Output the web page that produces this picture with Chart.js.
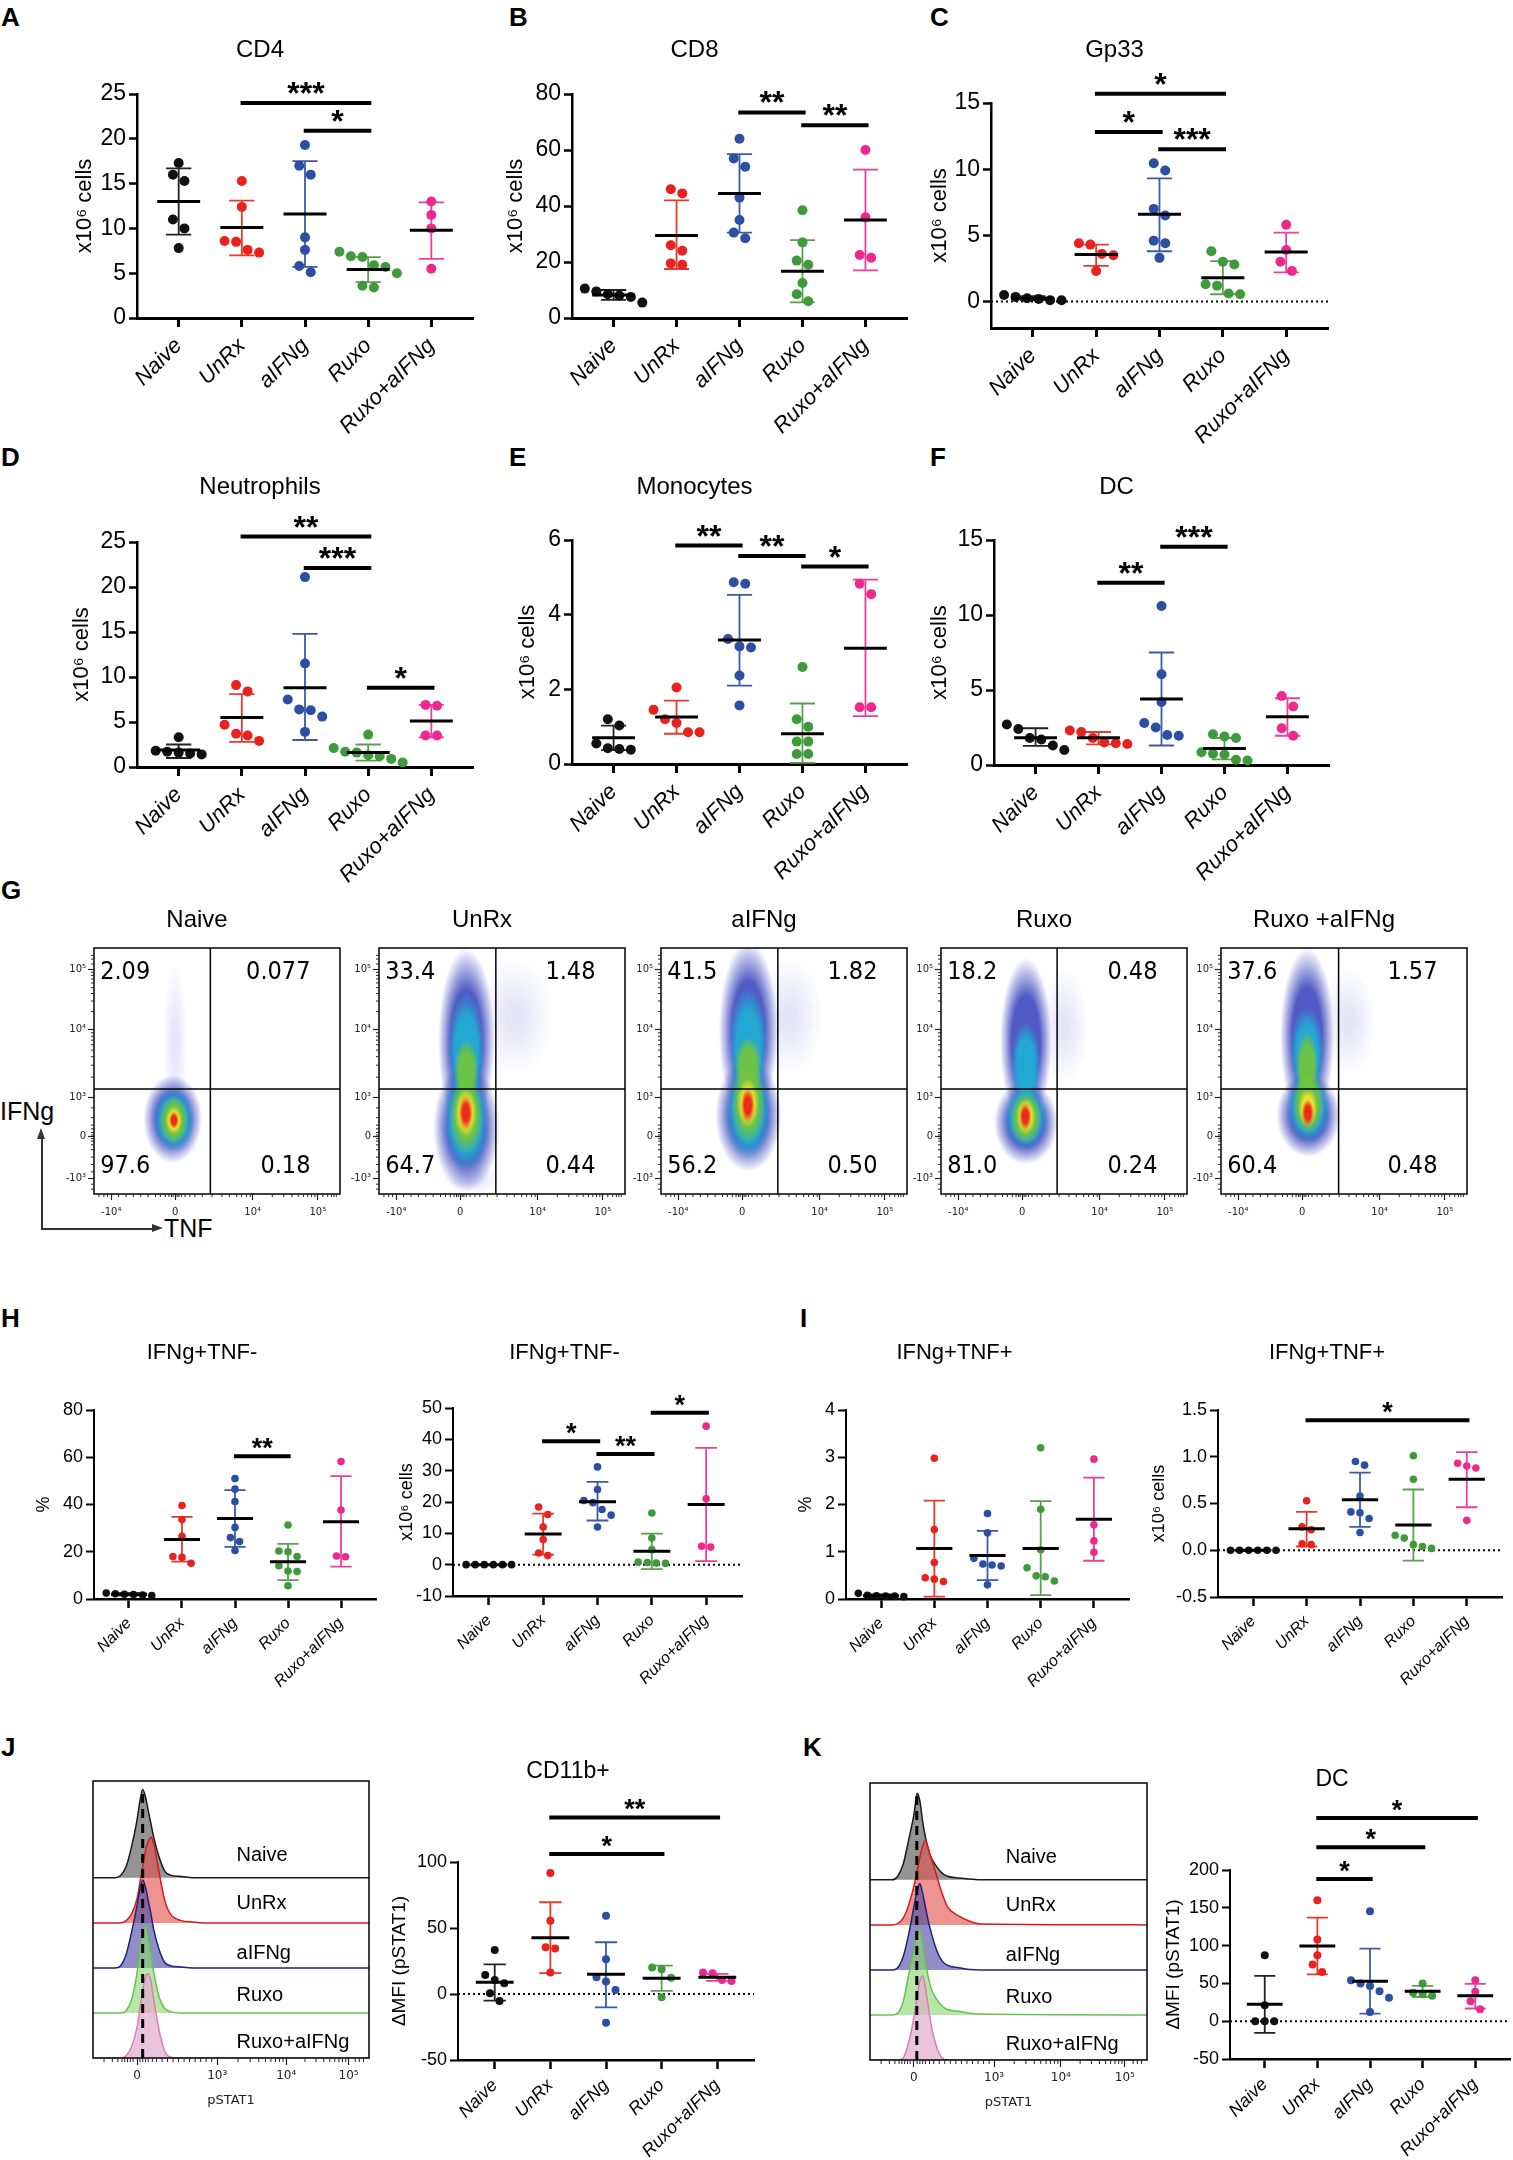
<!DOCTYPE html>
<html>
<head>
<meta charset="utf-8">
<title>Figure</title>
<script src="https://cdn.jsdelivr.net/npm/chart.js@4.4.1/dist/chart.umd.min.js"></script>
<style>
  html, body { margin: 0; padding: 0; background: #fff; overflow: hidden; }
  #page { position: relative; width: 1513px; height: 2160px; font-family: "Liberation Sans", Arial, sans-serif; color: #000; }
  #page canvas { position: absolute; }
  .letter { position: absolute; font-weight: bold; font-size: 26px; line-height: 1; }
  .axlbl { position: absolute; font-size: 25px; line-height: 1; }
  .ln { position: absolute; background: #333; }
</style>
</head>
<body>
<div id="page">
  <div class="letter" style="left:1px;top:4px">A</div>
  <div class="letter" style="left:509px;top:4px">B</div>
  <div class="letter" style="left:930px;top:4px">C</div>
  <div class="letter" style="left:1px;top:444px">D</div>
  <div class="letter" style="left:509px;top:444px">E</div>
  <div class="letter" style="left:930px;top:444px">F</div>
  <div class="letter" style="left:1px;top:877px">G</div>
  <div class="letter" style="left:1px;top:1305px">H</div>
  <div class="letter" style="left:800px;top:1305px">I</div>
  <div class="letter" style="left:1px;top:1734px">J</div>
  <div class="letter" style="left:803px;top:1734px">K</div>
  <div class="axlbl" style="left:0px;top:1099px">IFNg</div>
  <div class="axlbl" style="left:164px;top:1216px">TNF</div>
  <div class="ln" style="left:41px;top:1138px;width:1.5px;height:91px"></div>
  <div style="position:absolute;left:37px;top:1128px;width:0;height:0;border-left:4.5px solid transparent;border-right:4.5px solid transparent;border-bottom:11px solid #333"></div>
  <div class="ln" style="left:41px;top:1228px;width:112px;height:1.5px"></div>
  <div style="position:absolute;left:152px;top:1224px;width:0;height:0;border-top:4.5px solid transparent;border-bottom:4.5px solid transparent;border-left:11px solid #333"></div>
</div>
<script>
// Shared settings
Chart.defaults.font.family = '"Liberation Sans", Arial, sans-serif';
Chart.defaults.color = '#000';
Chart.defaults.animation = false;
Chart.defaults.plugins.legend.display = false;
Chart.defaults.plugins.tooltip.enabled = false;

const page = document.getElementById('page');

const groups = ['Naive', 'UnRx', 'aIFNg', 'Ruxo', 'Ruxo+aIFNg'];
const dotColors = ['#111111', '#e8231e', '#2c4ea3', '#3f9a3b', '#ec2a8e'];
const barColors = ['#222222', '#e8392f', '#3b5aa8', '#5c9e52', '#ec3f98'];

// A - CD4
const cd4 = [[17.3, 16.0, 15.3, 11.0, 10.0, 7.8], [15.3, 12.4, 8.6, 8.5, 7.6, 7.3], [19.3, 17.0, 16.0, 9.0, 7.6, 5.8, 5.1], [7.4, 6.9, 6.8, 5.9, 5.7, 5.0, 3.6, 3.4], [13.0, 11.5, 10.0, 5.5]];
const cd4Mean = [13.0, 10.1, 11.6, 5.4, 9.8];
const cd4Lo = [9.3, 7.0, 5.7, 4.0, 6.6];
const cd4Hi = [16.7, 13.1, 17.5, 6.8, 12.9];
const cd4Sig = [[1, 3, 24, '***'], [2, 3, 20.9, '*']];

// B - CD8
const cd8 = [[10.5, 9.5, 8.5, 8.0, 7.5, 5.5], [46, 44.5, 26, 24, 19.5, 19], [64, 57, 54, 43, 35, 30.5, 28.5], [38.5, 27, 20.5, 19, 12.5, 8.5, 6], [60, 36, 22.5, 21.5]];
const cd8Mean = [8.2, 29.5, 44.5, 16.7, 35];
const cd8Lo = [6.5, 17.5, 30.5, 5.6, 17];
const cd8Hi = [10.0, 42, 58.5, 27.8, 53];
const cd8Sig = [[2, 3, 73.4, '**'], [3, 4, 68.8, '**']];

// C - Gp33
const gp33 = [[0.5, 0.35, 0.25, 0.2, 0.1, 0.1], [4.4, 4.3, 3.6, 3.5, 2.3], [10.45, 9.9, 7.0, 6.5, 4.6, 4.4, 3.3], [3.8, 3.0, 2.8, 1.3, 1.2, 0.6, 0.55], [5.8, 3.9, 3.0, 2.3]];
const gp33Mean = [0.25, 3.55, 6.6, 1.8, 3.75];
const gp33Lo = [0.1, 2.7, 3.8, 0.55, 2.2];
const gp33Hi = [0.4, 4.3, 9.3, 3.05, 5.2];
const gp33Sig = [[1, 3, 15.7, '*'], [1, 2, 12.8, '*'], [2, 3, 11.5, '***']];

// D - Neutrophils
const neu = [[3.3, 1.8, 1.7, 1.6, 1.5, 1.4], [9.1, 8.4, 4.7, 3.7, 3.5, 2.9], [21.1, 11.5, 7.5, 6.4, 6.3, 5.6, 3.9], [3.6, 2.1, 1.7, 1.6, 1.3, 1.2, 0.9, 0.5], [6.9, 6.8, 3.5, 3.5]];
const neuMean = [1.9, 5.5, 8.8, 1.6, 5.1];
const neuLo = [1.0, 2.8, 3.0, 0.7, 3.3];
const neuHi = [2.5, 8.1, 14.8, 2.5, 6.9];
const neuSig = [[1, 3, 25.6, '**'], [2, 3, 22.1, '***'], [3, 4, 8.8, '*']];

// E - Monocytes
const mono = [[1.2, 1.03, 0.55, 0.42, 0.4, 0.38], [2.05, 1.45, 1.2, 1.1, 0.85, 0.85], [4.87, 4.83, 3.35, 3.15, 3.12, 2.37, 1.57], [2.6, 1.2, 1.0, 0.6, 0.6, 0.27, 0.27], [4.83, 4.55, 1.52, 1.52]];
const monoMean = [0.7, 1.26, 3.32, 0.81, 3.1];
const monoLo = [0.37, 0.81, 2.1, 0.03, 1.28];
const monoHi = [1.03, 1.7, 4.53, 1.62, 4.94];
const monoSig = [[1, 2, 5.85, '**'], [2, 3, 5.57, '**'], [3, 4, 5.29, '*']];

// F - DC
const dc = [[2.7, 2.4, 1.8, 1.7, 1.3, 1.0], [2.3, 2.2, 1.8, 1.5, 1.45, 1.4], [10.6, 6.05, 4.2, 2.8, 2.5, 2.0, 1.95], [2.05, 1.9, 1.8, 0.85, 0.75, 0.7, 0.35, 0.3], [4.6, 3.9, 2.45, 1.95]];
const dcMean = [1.82, 1.82, 4.4, 1.1, 3.22];
const dcLo = [1.27, 1.38, 1.3, 0.38, 1.95];
const dcHi = [2.45, 2.2, 7.5, 1.8, 4.45];
const dcSig = [[1, 2, 12.15, '**'], [2, 3, 14.55, '***']];

// H - IFNg+TNF- (%)
const ifnPct = [[2.5, 2.2, 2.0, 1.9, 1.7, 1.5], [39.6, 33.6, 26.5, 18, 17.6, 15.1], [51, 46.5, 41.3, 30.3, 26, 24.3, 20.5], [31.3, 20.3, 20, 18, 14.1, 11.8, 11.6, 5.6], [58.2, 37.7, 18.2, 17.9]];
const ifnPctMean = [2.0, 25.2, 34.1, 15.8, 32.7];
const ifnPctLo = [1.5, 15.8, 22.1, 8, 13.7];
const ifnPctHi = [2.5, 34.8, 46.1, 23.3, 52];
const ifnPctSig = [[2, 3, 60.4, '**']];

// H - IFNg+TNF- (cells)
const ifnCells = [[0, 0, 0, 0, 0, 0], [18.4, 16, 12, 8, 3.7, 2.9], [31.2, 24, 20.5, 19.8, 17.6, 15.8, 12], [16.5, 8.5, 4.8, 0.8, 0.7, 0.5, 0.4], [44.2, 21, 5.9, 5.6]];
const ifnCellsMean = [0, 9.8, 20.1, 4.3, 19.2];
const ifnCellsLo = [0, 3.2, 14.1, -1.4, 1.1];
const ifnCellsHi = [0, 16.3, 26.4, 9.9, 37.3];
const ifnCellsSig = [[1, 2, 39.4, '*'], [2, 3, 35.3, '**'], [3, 4, 48.5, '*']];

// I - IFNg+TNF+ (%)
const dpPct = [[0.12, 0.08, 0.07, 0.06, 0.06, 0.05], [2.98, 1.47, 0.77, 0.45, 0.42, 0.37], [1.81, 1.4, 0.86, 0.74, 0.72, 0.7, 0.3], [3.2, 1.9, 1.04, 0.66, 0.49, 0.47, 0.38], [2.96, 1.57, 1.23, 0.99]];
const dpPctMean = [0.07, 1.07, 0.92, 1.07, 1.69];
const dpPctLo = [0.04, 0.05, 0.4, 0.08, 0.81];
const dpPctHi = [0.1, 2.08, 1.44, 2.07, 2.57];
const dpPctSig = [];

// I - IFNg+TNF+ (cells)
const dpCells = [[0, 0, 0, 0, 0, 0], [0.53, 0.25, 0.22, 0.07, 0.06], [0.95, 0.91, 0.58, 0.41, 0.4, 0.34, 0.19], [1.01, 0.76, 0.16, 0.13, 0.06, 0.04, 0.02], [0.93, 0.9, 0.88, 0.32]];
const dpCellsMean = [0, 0.23, 0.54, 0.27, 0.76];
const dpCellsLo = [0, 0.04, 0.25, -0.11, 0.46];
const dpCellsHi = [0, 0.41, 0.83, 0.65, 1.05];
const dpCellsSig = [[1, 4, 1.39, '*']];

// J - CD11b+ pSTAT1
const cd11 = [[33.4, 14.4, 10.6, 8.1, 0.5, -5.3], [91.6, 55.4, 35.5, 34.5, 16.2], [59.2, 26.3, 12.6, 9.4, 3, -21.8], [20, 18.7, 12.4, -2.5], [16.2, 15.7, 10.6, 9.9]];
const cd11Mean = [8.9, 42.7, 14.9, 11.9, 12.6];
const cd11Lo = [-5, 15.8, -10.1, 2.3, 9.9];
const cd11Hi = [22.5, 69.5, 39.2, 21.5, 15.2];
const cd11Sig = [[1, 3, 106, '*'], [1, 4, 133.8, '**']];

// K - DC pSTAT1
const dcStat = [[87.3, 21.2, 0, 0, 0], [160, 108, 87.3, 75, 65], [145.5, 54.2, 50, 46.7, 39.7, 30.9, 12.3], [49.8, 37.5, 35.7, 33.5], [54.2, 38.8, 26.5, 15.9]];
const dcStatMean = [22.5, 99.6, 52.9, 39.7, 33.5];
const dcStatLo = [-15.4, 62, 10, 32, 16.8];
const dcStatHi = [60, 137, 96, 46.7, 49.4];
const dcStatSig = [[1, 2, 188, '*'], [1, 3, 230, '*'], [1, 4, 268.8, '*']];

// G - flow plots (positions in % of the plot box)
const flowTitles = ['Naive', 'UnRx', 'aIFNg', 'Ruxo', 'Ruxo +aIFNg'];
const flowLeft = [94, 379, 661, 941, 1221];
const flowQuadrants = [['2.09', '0.077', '97.6', '0.18'], ['33.4', '1.48', '64.7', '0.44'], ['41.5', '1.82', '56.2', '0.50'], ['18.2', '0.48', '81.0', '0.24'], ['37.6', '1.57', '60.4', '0.48']];
const flowGateX = [47.3, 47.5, 47.5, 47.2, 47.8];
const flowGateY = [42.7, 42.7, 42.7, 42.7, 42.7];
const flowHalo = [[[33, 62, 5, 32]], [[55, 72, 16, 24], [38, 6, 12, 6]], [[52, 72, 14, 24]], [[50, 68, 10, 24]], [[52, 70, 11, 22]]];
const flowBlue = [[[32, 30.5, 12, 18]], [[35.5, 27, 13.5, 26], [35.5, 62, 11.5, 38]], [[35.5, 32, 13.5, 23], [35.5, 66, 12, 37]], [[34.5, 29, 13, 17], [34.5, 62, 10.5, 34]], [[35.5, 32, 13, 17], [35, 64, 11, 36]]];
const flowCyan = [[[32.5, 30, 8.5, 13]], [[35.5, 30, 9.5, 21], [35.5, 58, 7.5, 24]], [[35.5, 34, 9.5, 20], [35.5, 60, 8, 24]], [[34.5, 31, 9, 13], [34.5, 52, 6, 18]], [[35.5, 35, 9, 14], [35, 57, 7, 19]]];
const flowGreen = [[[32.5, 30, 6, 10]], [[35.5, 32, 7, 16], [35.5, 50, 5, 13]], [[35.5, 37, 7, 17], [35.5, 52, 5.5, 12]], [[34.5, 31, 6.5, 11]], [[35.5, 37, 6.5, 13], [35, 52, 4.5, 14]]];
const flowYellow = [[[32.5, 30, 3.5, 6]], [[35.3, 33, 4.5, 10]], [[35.3, 37, 4.5, 10]], [[34.5, 31.5, 4, 7.5]], [[35.3, 35, 4, 8]]];
const flowRed = [[[32.5, 30, 2, 3.5]], [[35.3, 33, 2.8, 7]], [[35.3, 36, 2.8, 7]], [[34.3, 31.5, 2.5, 5.5]], [[35.3, 33, 2.5, 5.5]]];
const flowXTicks = [7, 33, 64.5, 91];
const flowXLabels = ['-10⁴', '0', '10⁴', '10⁵'];
const flowYTicks = [6.4, 23.3, 39.2, 66.8, 91.2];
const flowYLabels = ['-10³', '0', '10³', '10⁴', '10⁵'];

// J/K - pSTAT1 histograms (heights in row units)
const histX = [0, 8, 10, 12, 14, 16, 17, 18, 19, 20, 21, 22, 24, 26, 28, 32, 36, 40, 100];
const histBase = [4, 3, 2, 1, 0];
const histJ = [
  [0, 0, 0.05, 0.25, 0.7, 1.3, 1.7, 1.96, 1.8, 1.5, 1.2, 0.9, 0.45, 0.15, 0.06, 0.03, 0, 0, 0],
  [0, 0, 0, 0.05, 0.2, 0.55, 0.9, 1.25, 1.6, 1.8, 1.9, 1.75, 1.1, 0.5, 0.2, 0.05, 0.02, 0, 0],
  [0, 0, 0.05, 0.3, 0.8, 1.4, 1.75, 1.95, 1.8, 1.5, 1.2, 0.85, 0.4, 0.12, 0.05, 0.02, 0, 0, 0],
  [0, 0, 0, 0.05, 0.3, 0.9, 1.4, 1.8, 1.93, 1.7, 1.3, 0.9, 0.35, 0.1, 0.03, 0, 0, 0, 0],
  [0, 0, 0, 0.05, 0.25, 0.7, 1.1, 1.5, 1.8, 1.87, 1.7, 1.3, 0.6, 0.15, 0.02, 0, 0, 0, 0]
];
const histK = [
  [0, 0, 0.08, 0.35, 0.9, 1.5, 1.92, 1.75, 1.3, 0.95, 0.7, 0.5, 0.3, 0.15, 0.08, 0.04, 0.02, 0, 0],
  [0, 0, 0.03, 0.15, 0.45, 0.9, 1.2, 1.5, 1.75, 1.88, 1.7, 1.5, 1.1, 0.7, 0.4, 0.2, 0.08, 0.02, 0],
  [0, 0, 0.05, 0.3, 0.8, 1.45, 1.75, 1.92, 1.7, 1.4, 1.1, 0.85, 0.45, 0.2, 0.1, 0.05, 0.01, 0, 0],
  [0, 0, 0.04, 0.3, 0.9, 1.5, 1.8, 1.9, 1.6, 1.2, 0.85, 0.6, 0.35, 0.2, 0.12, 0.08, 0.04, 0.02, 0],
  [0, 0, 0, 0.05, 0.4, 1.0, 1.4, 1.75, 1.87, 1.6, 1.2, 0.8, 0.3, 0.05, 0, 0, 0, 0, 0]
];
const histLabelY = [4.5, 3.42, 2.32, 1.38, 0.34];
const histFill = ['rgba(118,118,118,0.78)', 'rgba(226,82,76,0.62)', 'rgba(78,72,165,0.62)', 'rgba(140,215,112,0.62)', 'rgba(228,172,208,0.72)'];
const histLine = ['#1a1a1a', '#d41c1c', '#1f2280', '#66c24f', '#d67fb5'];

// Helpers
function addCanvas(l, t, w, h) {
  const c = document.createElement('canvas');
  c.width = w; c.height = h;
  c.style.left = l + 'px'; c.style.top = t + 'px';
  c.style.width = w + 'px'; c.style.height = h + 'px';
  page.appendChild(c);
  return c;
}
function logTicks(a, b) {
  return [2, 3, 4, 5, 6, 7, 8, 9].map(k => a + (b - a) * Math.log10(k));
}
function drawMinor(chart, xs, ys, len) {
  const {ctx, chartArea: a, scales: {x, y}} = chart;
  ctx.save();
  ctx.strokeStyle = '#222'; ctx.lineWidth = 1;
  ctx.beginPath();
  xs.forEach(v => { const px = x.getPixelForValue(v); ctx.moveTo(px, a.bottom); ctx.lineTo(px, a.bottom + len); });
  ys.forEach(v => { const py = y.getPixelForValue(v); ctx.moveTo(a.left, py); ctx.lineTo(a.left - len, py); });
  ctx.stroke();
  ctx.restore();
}

// Beeswarm: spread points that sit too close vertically
function swarm(chart, vals, r) {
  const x = chart.scales.x, y = chart.scales.y;
  const unit = x.getPixelForValue(1) - x.getPixelForValue(0);
  const step = 2 * r + 1.5;
  vals.forEach((list, g) => {
    const pts = list.map(v => ({v, py: y.getPixelForValue(v)})).sort((p, q) => p.py - q.py);
    const data = [];
    let i = 0;
    while (i < pts.length) {
      let j = i + 1;
      while (j < pts.length && pts[j].py - pts[j - 1].py < step * 0.95) j++;
      const n = j - i;
      for (let k = 0; k < n; k++) data.push({x: g + ((k - (n - 1) / 2) * step) / unit, y: pts[i + k].v});
      i = j;
    }
    chart.data.datasets[g].data = data;
  });
  chart.update('none');
}

const SIZES = {
  big: {tick: 23, title: 24, cat: 22, ylab: 22, star: 32, r: 5, lw: 90, bh: 125, axis: 3},
  mid: {tick: 18, title: 22, cat: 16, ylab: 18, star: 27, r: 3.8, lw: 66, bh: 95, axis: 2.5},
  jk: {tick: 18, title: 23, cat: 18, ylab: 19, star: 27, r: 4, lw: 76, bh: 100, axis: 2.5}
};

function dotPlot(o) {
  const s = SIZES[o.size];
  const LW = s.lw, BH = s.bh;
  const cTop = o.titleY - 20;
  const cv = addCanvas(o.left - LW, cTop, o.right - o.left + 2 * LW, o.bottom - cTop + BH);
  const deco = {
    id: 'dotDeco',
    beforeDatasetsDraw(chart) {
      const {ctx, chartArea: a, scales: {x, y}} = chart;
      const unit = x.getPixelForValue(1) - x.getPixelForValue(0);
      ctx.save();
      if (o.zero) {
        const py = y.getPixelForValue(0);
        ctx.setLineDash([2, 3]); ctx.lineWidth = 2; ctx.strokeStyle = '#000';
        ctx.beginPath(); ctx.moveTo(a.left, py); ctx.lineTo(a.right, py); ctx.stroke();
        ctx.setLineDash([]);
      }
      ctx.lineWidth = 1.8;
      o.mean.forEach((m, g) => {
        const px = x.getPixelForValue(g), lo = y.getPixelForValue(o.lo[g]), hi = y.getPixelForValue(o.hi[g]);
        const cap = 0.2 * unit;
        ctx.strokeStyle = barColors[g];
        ctx.beginPath();
        ctx.moveTo(px, lo); ctx.lineTo(px, hi);
        ctx.moveTo(px - cap, lo); ctx.lineTo(px + cap, lo);
        ctx.moveTo(px - cap, hi); ctx.lineTo(px + cap, hi);
        ctx.stroke();
      });
      ctx.restore();
    },
    afterDatasetsDraw(chart) {
      const {ctx, scales: {x, y}} = chart;
      const unit = x.getPixelForValue(1) - x.getPixelForValue(0);
      ctx.save();
      ctx.strokeStyle = '#000'; ctx.lineWidth = 3;
      o.mean.forEach((m, g) => {
        const px = x.getPixelForValue(g), py = y.getPixelForValue(m);
        ctx.beginPath(); ctx.moveTo(px - 0.34 * unit, py); ctx.lineTo(px + 0.34 * unit, py); ctx.stroke();
      });
      ctx.lineWidth = 4; ctx.fillStyle = '#000';
      ctx.textAlign = 'center'; ctx.textBaseline = 'alphabetic';
      ctx.font = 'bold ' + s.star + 'px "Liberation Sans", Arial, sans-serif';
      o.sig.forEach(([i, j, v, t]) => {
        const x1 = x.getPixelForValue(i - 0.02), x2 = x.getPixelForValue(j + 0.05), py = y.getPixelForValue(v);
        ctx.beginPath(); ctx.moveTo(x1, py); ctx.lineTo(x2, py); ctx.stroke();
        ctx.fillText(t, (x1 + x2) / 2, py + 1);
      });
      ctx.restore();
    }
  };
  const chart = new Chart(cv, {
    type: 'scatter',
    data: {
      datasets: o.vals.map((list, g) => ({
        data: list.map(v => ({x: g, y: v})),
        backgroundColor: dotColors[g], borderWidth: 0, pointRadius: s.r, clip: false
      }))
    },
    options: {
      responsive: false,
      layout: {padding: {left: 0, right: LW, top: 0, bottom: 0}},
      plugins: {
        title: {
          display: true, text: o.title, color: '#000',
          font: {size: s.title, weight: 'normal', lineHeight: 1.2},
          padding: {top: 20 - 0.6 * s.title, bottom: o.top - cTop - 20 - 0.6 * s.title}
        }
      },
      scales: {
        x: {
          type: 'linear', min: -0.66, max: 4.66, bounds: 'data',
          afterBuildTicks: sc => { sc.ticks = [0, 1, 2, 3, 4].map(v => ({value: v})); },
          afterFit: sc => { sc.height = BH; },
          ticks: {callback: v => groups[v], autoSkip: false, minRotation: 45, maxRotation: 45, padding: 6, color: '#000', font: {size: s.cat, style: 'italic'}},
          grid: {drawOnChartArea: false, drawTicks: true, tickLength: 9, tickWidth: s.axis, tickColor: '#000'},
          border: {display: true, color: '#000', width: s.axis}
        },
        y: {
          type: 'linear', min: o.yMin, max: o.yMax, bounds: 'data',
          afterBuildTicks: sc => { sc.ticks = o.yTicks.map(v => ({value: v})); },
          afterFit: sc => { sc.width = LW; },
          ticks: {callback: o.fmt || (v => String(v)), padding: 3, color: '#000', font: {size: s.tick}},
          grid: {drawOnChartArea: false, drawTicks: true, tickLength: 8, tickWidth: s.axis - 0.5, tickColor: '#000'},
          border: {display: true, color: '#000', width: s.axis - 0.5},
          title: {display: true, text: o.ylabel, color: '#000', font: {size: s.ylab}, padding: {top: LW - o.gap - 0.6 * s.ylab, bottom: 0}}
        }
      }
    },
    plugins: [deco]
  });
  swarm(chart, o.vals, s.r);
}

function flowPlot(k) {
  const bl = flowLeft[k], bt = 948, bw = 246, bh = 246;
  const LW = 40, TOPH = 48, BH = 36;
  const cv = addCanvas(bl - LW, bt - TOPH, bw + 2 * LW, TOPH + bh + BH);
  // [blobs, rgb, inner alpha, stop where fading starts]
  const layers = [
    [flowHalo, '50,60,200', 0.13, 0.2],
    [flowBlue, '32,44,180', 0.78, 0.55],
    [flowCyan, '32,172,214', 0.95, 0.6],
    [flowGreen, '112,196,64', 0.95, 0.6],
    [flowYellow, '244,228,42', 0.95, 0.55],
    [flowRed, '236,34,30', 0.95, 0.5]
  ];
  const deco = {
    id: 'flowDeco',
    beforeDatasetsDraw(chart) {
      const {ctx, chartArea: a, scales: {x, y}} = chart;
      ctx.save();
      ctx.beginPath(); ctx.rect(a.left, a.top, a.width, a.height); ctx.clip();
      layers.forEach(([arr, rgb, alpha, stop]) => {
        arr[k].forEach(([cx, cy, rx, ry]) => {
          const px = x.getPixelForValue(cx), py = y.getPixelForValue(cy);
          const sx = Math.abs(x.getPixelForValue(cx + rx) - px), sy = Math.abs(y.getPixelForValue(cy + ry) - py);
          ctx.save();
          ctx.translate(px, py);
          ctx.scale(sx, sy);
          const grad = ctx.createRadialGradient(0, 0, 0, 0, 0, 1);
          grad.addColorStop(0, 'rgba(' + rgb + ',' + alpha + ')');
          grad.addColorStop(stop, 'rgba(' + rgb + ',' + alpha + ')');
          grad.addColorStop(1, 'rgba(' + rgb + ',0)');
          ctx.fillStyle = grad;
          ctx.beginPath(); ctx.arc(0, 0, 1, 0, 2 * Math.PI); ctx.fill();
          ctx.restore();
        });
      });
      ctx.restore();
    },
    afterDraw(chart) {
      const {ctx, chartArea: a, scales: {x, y}} = chart;
      ctx.save();
      ctx.strokeStyle = '#000'; ctx.lineWidth = 1.5;
      ctx.strokeRect(a.left, a.top, a.width, a.height);
      const gx = x.getPixelForValue(flowGateX[k]), gy = y.getPixelForValue(flowGateY[k]);
      ctx.beginPath(); ctx.moveTo(gx, a.top); ctx.lineTo(gx, a.bottom); ctx.moveTo(a.left, gy); ctx.lineTo(a.right, gy); ctx.stroke();
      ctx.fillStyle = '#000';
      ctx.font = '25px "DejaVu Sans Condensed", "DejaVu Sans", sans-serif';
      ctx.textBaseline = 'middle';
      const q = flowQuadrants[k];
      ctx.textAlign = 'left';
      ctx.fillText(q[0], x.getPixelForValue(2.5), y.getPixelForValue(90));
      ctx.fillText(q[2], x.getPixelForValue(2.5), y.getPixelForValue(11));
      ctx.textAlign = 'right';
      ctx.fillText(q[1], x.getPixelForValue(88), y.getPixelForValue(90));
      ctx.fillText(q[3], x.getPixelForValue(88), y.getPixelForValue(11));
      ctx.restore();
      drawMinor(chart, flowXMinor, flowYMinor, 3);
    }
  };
  new Chart(cv, {
    type: 'scatter',
    data: {datasets: []},
    options: {
      responsive: false,
      layout: {padding: {left: 0, right: LW, top: 0, bottom: 0}},
      plugins: {
        title: {
          display: true, text: flowTitles[k], color: '#000',
          font: {size: 24, weight: 'normal', lineHeight: 1.2},
          padding: {top: 20 - 14.4, bottom: TOPH - 20 - 14.4}
        }
      },
      scales: {
        x: {
          type: 'linear', min: 0, max: 100, bounds: 'data',
          afterBuildTicks: sc => { sc.ticks = flowXTicks.map(v => ({value: v})); },
          afterFit: sc => { sc.height = BH; },
          ticks: {callback: (v, i) => flowXLabels[i], maxRotation: 0, autoSkip: false, padding: 6, color: '#222', font: {size: 10, family: '"DejaVu Sans", sans-serif'}},
          grid: {drawOnChartArea: false, drawTicks: true, tickLength: 6, tickWidth: 1.2, tickColor: '#222'},
          border: {display: false}
        },
        y: {
          type: 'linear', min: 0, max: 100, bounds: 'data',
          afterBuildTicks: sc => { sc.ticks = flowYTicks.map(v => ({value: v})); },
          afterFit: sc => { sc.width = LW; },
          ticks: {callback: (v, i) => flowYLabels[i], autoSkip: false, padding: 2, color: '#222', font: {size: 10, family: '"DejaVu Sans", sans-serif'}},
          grid: {drawOnChartArea: false, drawTicks: true, tickLength: 6, tickWidth: 1.2, tickColor: '#222'},
          border: {display: false}
        }
      }
    },
    plugins: [deco]
  });
}

function histPlot(o) {
  const pad = 12, BH = 50;
  const cv = addCanvas(o.left - pad, o.top - pad, o.w + 2 * pad, o.h + pad + BH);
  const datasets = o.rows.map((h, r) => ({
    data: histX.map((xv, i) => ({x: xv, y: histBase[r] + h[i]})),
    borderColor: histLine[r], borderWidth: 1.5, backgroundColor: histFill[r],
    fill: {value: histBase[r]}, pointRadius: 0, cubicInterpolationMode: 'monotone', order: histBase[r]
  }));
  datasets.push({
    data: [{x: o.dashX, y: 0}, {x: o.dashX, y: o.dashTop}],
    borderColor: '#000', borderWidth: 3, borderDash: [9, 6], pointRadius: 0, fill: false, order: -1
  });
  const deco = {
    id: 'histDeco',
    afterDatasetsDraw(chart) {
      const {ctx, chartArea: a, scales: {x, y}} = chart;
      ctx.save();
      ctx.fillStyle = '#000';
      ctx.font = '20px "Liberation Sans", Arial, sans-serif';
      ctx.textAlign = 'left'; ctx.textBaseline = 'middle';
      groups.forEach((g, r) => ctx.fillText(g, x.getPixelForValue(o.labelX), y.getPixelForValue(histLabelY[r])));
      ctx.strokeStyle = '#000'; ctx.lineWidth = 1.5;
      ctx.strokeRect(a.left, a.top, a.width, a.height);
      ctx.restore();
      drawMinor(chart, o.minor, [], 4);
    }
  };
  new Chart(cv, {
    type: 'line',
    data: {datasets},
    options: {
      responsive: false,
      layout: {padding: {left: pad, right: pad, top: pad, bottom: 0}},
      scales: {
        x: {
          type: 'linear', min: 0, max: 100, bounds: 'data',
          afterBuildTicks: sc => { sc.ticks = o.major.map(v => ({value: v})); },
          afterFit: sc => { sc.height = BH; },
          ticks: {callback: (v, i) => ['0', '10³', '10⁴', '10⁵'][i], maxRotation: 0, autoSkip: false, padding: 4, color: '#222', font: {size: 12, family: '"DejaVu Sans", sans-serif'}},
          grid: {drawOnChartArea: false, drawTicks: true, tickLength: 7, tickWidth: 1.2, tickColor: '#222'},
          border: {display: false},
          title: {display: true, text: 'pSTAT1', color: '#222', font: {size: 13, family: '"DejaVu Sans", sans-serif'}, padding: {top: 0, bottom: 0}}
        },
        y: {display: false, min: 0, max: 6.15}
      }
    },
    plugins: [deco]
  });
}

const flowXMinor = [2, 4, 5.5, 10, 13, 16, 19, 22, 25, 27, 29, 30.5, 31.5, 32.2, 33.8, 34.5, 35.5, 37, 39, 41, 44, 48, 52, 55, 58, 60, 62, 63.5]
  .concat(logTicks(64.5, 91), [93, 95, 96.5, 97.5, 98.5]);
const flowYMinor = [2, 4, 9, 12, 15, 18, 20, 21.5, 22.5, 24, 25, 26.5, 28, 31, 35]
  .concat(logTicks(39.2, 66.8), logTicks(66.8, 91.2), [93.5, 95.5, 97]);
const histMinorJ = [4, 7, 9, 10.5, 11.5, 12.5, 13.5, 14.5, 17, 18, 19, 20, 21.5, 23, 25, 27, 29, 31, 33, 35, 37, 39, 41, 43]
  .concat(logTicks(45, 70), logTicks(70, 92.6), [95, 96.5, 98]);
const histMinorK = [4, 7, 9, 10.5, 11.5, 12.5, 13.5, 14.5, 17, 18, 19, 20, 21.5, 23, 25, 27, 29, 31, 33, 35, 37, 39, 41, 43]
  .concat(logTicks(44.8, 68.9), logTicks(68.9, 92), [95, 96.5, 98]);

// Rows 1-2
const cellsLbl = 'x10⁶ cells';
dotPlot({size: 'big', left: 137, right: 473, top: 94, bottom: 318, titleY: 50, title: 'CD4', ylabel: cellsLbl, gap: 52, yMin: 0, yMax: 25, yTicks: [0, 5, 10, 15, 20, 25], vals: cd4, mean: cd4Mean, lo: cd4Lo, hi: cd4Hi, sig: cd4Sig});
dotPlot({size: 'big', left: 572, right: 907, top: 94, bottom: 318, titleY: 50, title: 'CD8', ylabel: cellsLbl, gap: 56, yMin: 0, yMax: 80, yTicks: [0, 20, 40, 60, 80], vals: cd8, mean: cd8Mean, lo: cd8Lo, hi: cd8Hi, sig: cd8Sig});
dotPlot({size: 'big', left: 991, right: 1328, top: 103, bottom: 328, titleY: 50, title: 'Gp33', ylabel: cellsLbl, gap: 51, yMin: -2, yMax: 15, yTicks: [0, 5, 10, 15], vals: gp33, mean: gp33Mean, lo: gp33Lo, hi: gp33Hi, sig: gp33Sig, zero: true});
dotPlot({size: 'big', left: 137, right: 473, top: 542, bottom: 767, titleY: 487, title: 'Neutrophils', ylabel: cellsLbl, gap: 55, yMin: 0, yMax: 25, yTicks: [0, 5, 10, 15, 20, 25], vals: neu, mean: neuMean, lo: neuLo, hi: neuHi, sig: neuSig});
dotPlot({size: 'big', left: 572, right: 907, top: 540, bottom: 764, titleY: 487, title: 'Monocytes', ylabel: cellsLbl, gap: 44, yMin: 0, yMax: 6, yTicks: [0, 2, 4, 6], vals: mono, mean: monoMean, lo: monoLo, hi: monoHi, sig: monoSig});
dotPlot({size: 'big', left: 994, right: 1329, top: 540, bottom: 765, titleY: 487, title: 'DC', ylabel: cellsLbl, gap: 54, yMin: 0, yMax: 15, yTicks: [0, 5, 10, 15], vals: dc, mean: dcMean, lo: dcLo, hi: dcHi, sig: dcSig});

// Row G
for (let k = 0; k < 5; k++) flowPlot(k);

// Rows H-I
dotPlot({size: 'mid', left: 94, right: 376, top: 1410, bottom: 1599, titleY: 1353, title: 'IFNg+TNF-', ylabel: '%', gap: 50, yMin: 0, yMax: 80, yTicks: [0, 20, 40, 60, 80], vals: ifnPct, mean: ifnPctMean, lo: ifnPctLo, hi: ifnPctHi, sig: ifnPctSig});
dotPlot({size: 'mid', left: 453, right: 742, top: 1408, bottom: 1596, titleY: 1353, title: 'IFNg+TNF-', ylabel: cellsLbl, gap: 46, yMin: -10, yMax: 50, yTicks: [-10, 0, 10, 20, 30, 40, 50], vals: ifnCells, mean: ifnCellsMean, lo: ifnCellsLo, hi: ifnCellsHi, sig: ifnCellsSig, zero: true});
dotPlot({size: 'mid', left: 846, right: 1129, top: 1410, bottom: 1599, titleY: 1353, title: 'IFNg+TNF+', ylabel: '%', gap: 40, yMin: 0, yMax: 4, yTicks: [0, 1, 2, 3, 4], vals: dpPct, mean: dpPctMean, lo: dpPctLo, hi: dpPctHi, sig: dpPctSig});
dotPlot({size: 'mid', left: 1218, right: 1502, top: 1410, bottom: 1597, titleY: 1353, title: 'IFNg+TNF+', ylabel: cellsLbl, gap: 59, yMin: -0.5, yMax: 1.5, yTicks: [-0.5, 0, 0.5, 1, 1.5], fmt: v => v.toFixed(1), vals: dpCells, mean: dpCellsMean, lo: dpCellsLo, hi: dpCellsHi, sig: dpCellsSig, zero: true});

// Rows J-K
histPlot({left: 93, top: 1781, w: 276, h: 277, rows: histJ, labelX: 52, dashX: 18, dashTop: 5.96, major: [16, 45, 70, 92.6], minor: histMinorJ});
histPlot({left: 870, top: 1783, w: 277, h: 277, rows: histK, labelX: 49, dashX: 16.9, dashTop: 5.9, major: [15.8, 44.8, 68.9, 92], minor: histMinorK});
dotPlot({size: 'jk', left: 458, right: 754, top: 1862, bottom: 2060, titleY: 1772, title: 'CD11b+', ylabel: 'ΔMFI (pSTAT1)', gap: 58, yMin: -50, yMax: 100, yTicks: [-50, 0, 50, 100], vals: cd11, mean: cd11Mean, lo: cd11Lo, hi: cd11Hi, sig: cd11Sig, zero: true});
dotPlot({size: 'jk', left: 1230, right: 1510, top: 1870, bottom: 2059, titleY: 1780, title: 'DC', ylabel: 'ΔMFI (pSTAT1)', gap: 56, yMin: -50, yMax: 200, yTicks: [-50, 0, 50, 100, 150, 200], vals: dcStat, mean: dcStatMean, lo: dcStatLo, hi: dcStatHi, sig: dcStatSig, zero: true});
</script>
</body>
</html>
